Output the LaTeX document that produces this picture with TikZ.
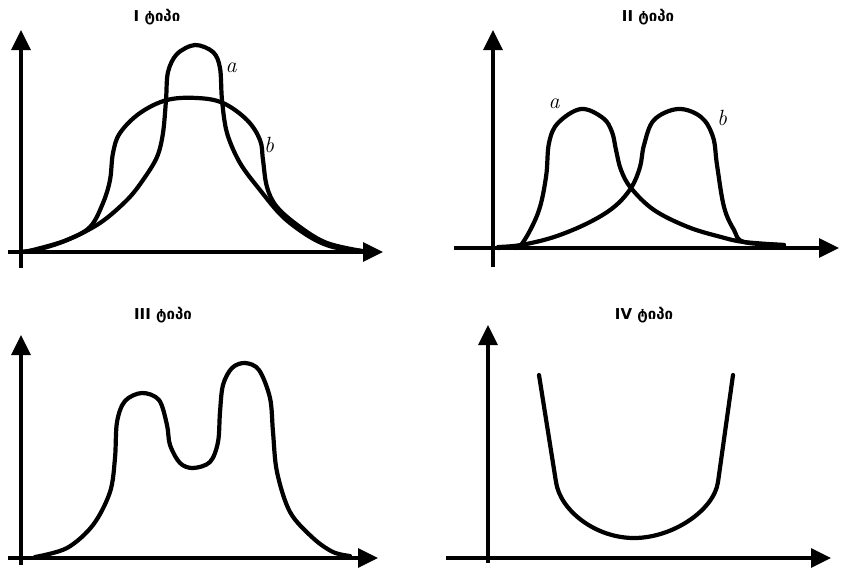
\documentclass[tikz,border=0pt]{standalone}
\usepackage{fontspec}
\usetikzlibrary{arrows.meta}
\newfontfamily\geofont{DejaVu Sans}
\tikzset{
  axis/.style={line width=3.3pt, -{Triangle[length=20pt,width=19pt]}},
  curve/.style={line width=4.2pt, line join=round, line cap=round},
  title/.style={font=\geofont\bfseries\fontsize{15}{17}\selectfont},
  tag/.style={font=\itshape\fontsize{22}{22}\selectfont}
}
\begin{document}
\begin{tikzpicture}[x=1pt,y=-1pt]
\useasboundingbox (0,0) rectangle (842,571);
\coordinate (yb1) at (21,268); \coordinate (yt1) at (21,30);
\coordinate (xl1) at (8,252); \coordinate (xr1) at (383,252);
\coordinate (yb2) at (493,267); \coordinate (yt2) at (493,30);
\coordinate (xl2) at (454,248); \coordinate (xr2) at (839,248);
\coordinate (yb3) at (21,565); \coordinate (yt3) at (21,335);
\coordinate (xl3) at (8,558); \coordinate (xr3) at (378,558);
\coordinate (yb4) at (488,563); \coordinate (yt4) at (488,325);
\coordinate (xl4) at (446,558); \coordinate (xr4) at (831,558);
\draw[axis] (yb1)--(yt1);
\draw[axis] (xl1)--(xr1);
\draw[axis] (yb2)--(yt2);
\draw[axis] (xl2)--(xr2);
\draw[axis] (yb3)--(yt3);
\draw[axis] (xl3)--(xr3);
\draw[axis] (yb4)--(yt4);
\draw[axis] (xl4)--(xr4);
\node[title] (t1) at (157,17) {I ტიპი};
\node[title] (t2) at (648,17) {II ტიპი};
\node[title] (t3) at (163,315) {III ტიპი};
\node[title] (t4) at (644,315) {IV ტიპი};
\draw[curve] plot[smooth,tension=0.55] coordinates {(21,252) (33,250) (67,240) (100,223) (127,200) (143,180) (157,157) (163,133) (166,100) (168,72) (177,54) (195,45) (213,52) (220,68) (222,100) (227,133) (240,163) (260,190) (283,217) (310,237) (333,247) (362,251)};
\draw[curve] plot[smooth,tension=0.6] coordinates {(21,252) (40,249) (67,240) (90,227) (103,203) (110,180) (113,153) (120,133) (140,113) (167,100) (197,98) (223,103) (247,120) (260,140) (263,160) (267,187) (277,207) (300,227) (327,243) (362,251)};
\node[tag] (a1) at (231,68) {a};
\node[tag] (b1) at (269,145) {b};
\draw[curve] plot[smooth,tension=0.6] coordinates {(498,248) (510,247) (521,245) (538,213) (546,177) (549,143) (558,123) (581,109) (603,118) (612,132) (616,150) (621,170) (631,188) (654,210) (688,227) (721,237) (744,242) (784,245)};
\draw[curve] plot[smooth,tension=0.6] coordinates {(498,247) (521,245) (554,237) (588,223) (614,207) (631,188) (640,167) (644,145) (654,120) (678,109) (701,117) (713,137) (717,165) (724,207) (734,230) (744,242) (784,245)};
\node[tag] (a2) at (554,104) {a};
\node[tag] (b2) at (722,118) {b};
\draw[curve] plot[smooth,tension=0.55] coordinates {(35,557) (67,548) (93,525) (110,492) (115,458) (117,422) (125,401) (142,393) (159,400) (167,425) (170,445) (180,463) (193,468) (210,462) (218,442) (220,412) (223,385) (232,368) (245,363) (259,370) (270,398) (273,432) (277,472) (290,512) (313,538) (333,552) (350,556)};
\draw[curve] (539,375) -- (556,482) .. controls (560,510) and (595,538) .. (634,538) .. controls (673,538) and (714,510) .. (718,482) -- (733,375);
\end{tikzpicture}
\end{document}
